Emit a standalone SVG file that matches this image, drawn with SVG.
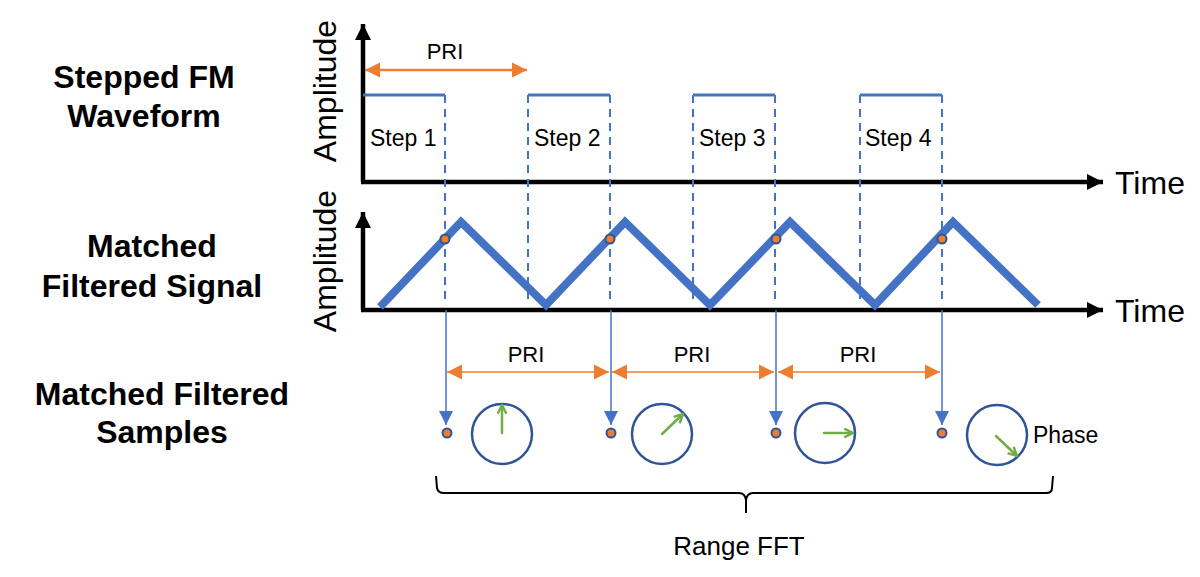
<svg xmlns="http://www.w3.org/2000/svg" width="1200" height="577" viewBox="0 0 1200 577">
<defs>
<style>
.lbl{font-family:"Liberation Sans",Arial,sans-serif;font-weight:bold;font-size:32px;fill:#000;text-anchor:middle}
.t{font-family:"Liberation Sans",Arial,sans-serif;fill:#000}
.ax{stroke:#000;stroke-width:4.5;fill:none}
.pulse{stroke:#4472C4;stroke-width:3;fill:none}
.dash{stroke:#4472C4;stroke-width:2;stroke-dasharray:8,6;fill:none}
.samp{stroke:#4472C4;stroke-width:1.5;fill:none}
.pri{stroke:#ED7D31;fill:none}
.dot{fill:#ED7D31;stroke:#2F5597;stroke-width:2}
.circ{fill:none;stroke:#2F5597;stroke-width:2.5}
.ph{stroke:#70AD47;stroke-width:2.5;fill:none;stroke-linecap:round;stroke-linejoin:round}
</style>
<marker id="ob" viewBox="0 0 10 10" refX="10" refY="5" markerWidth="15" markerHeight="16" markerUnits="userSpaceOnUse" orient="auto-start-reverse"><path d="M0,0 L10,5 L0,10 z" fill="#ED7D31"/></marker>
<marker id="bb" viewBox="0 0 10 10" refX="10" refY="5" markerWidth="14" markerHeight="15" markerUnits="userSpaceOnUse" orient="auto"><path d="M0,0 L10,5 L0,10 z" fill="#4472C4"/></marker>
<marker id="kb" viewBox="0 0 10 10" refX="10" refY="5" markerWidth="16" markerHeight="17" markerUnits="userSpaceOnUse" orient="auto"><path d="M0,0 L10,5 L0,10 z" fill="#000"/></marker>
<marker id="gb" viewBox="0 0 10 10" refX="9" refY="5" markerWidth="11" markerHeight="11" markerUnits="userSpaceOnUse" orient="auto"><path d="M1,1 L9,5 L1,9" fill="none" stroke="#70AD47" stroke-width="2.2"/></marker>
</defs>
<rect width="1200" height="577" fill="#fff"/>

<g id="labels">
<text class="lbl" x="144" y="88">Stepped FM</text>
<text class="lbl" x="144" y="127">Waveform</text>
<text class="lbl" x="152" y="257">Matched</text>
<text class="lbl" x="152" y="297">Filtered Signal</text>
<text class="lbl" x="162" y="405">Matched Filtered</text>
<text class="lbl" x="162" y="443">Samples</text>
</g>

<g id="axes-top">
<line class="ax" x1="363" y1="182" x2="363" y2="24" marker-end="url(#kb)"/>
<line class="ax" x1="361" y1="182" x2="1103" y2="182" marker-end="url(#kb)"/>
<text class="t" font-size="32" transform="translate(336,91) rotate(-90)" text-anchor="middle">Amplitude</text>
<text class="t" font-size="32" x="1115" y="194">Time</text>
</g>

<g id="axes-bottom">
<line class="ax" x1="363" y1="310" x2="363" y2="212" marker-end="url(#kb)"/>
<line class="ax" x1="361" y1="310" x2="1103" y2="310" marker-end="url(#kb)"/>
<text class="t" font-size="32" transform="translate(336,261) rotate(-90)" text-anchor="middle">Amplitude</text>
<text class="t" font-size="32" x="1115" y="322">Time</text>
</g>

<g id="stepped-waveform">
<polyline class="pulse" points="363,95 445,95"/>
<polyline class="pulse" points="528,95 610,95"/>
<polyline class="pulse" points="693,95 775,95"/>
<polyline class="pulse" points="860,95 942,95"/>
<text class="t" font-size="23" x="370" y="146">Step 1</text>
<text class="t" font-size="23" x="534" y="146">Step 2</text>
<text class="t" font-size="23" x="699" y="146">Step 3</text>
<text class="t" font-size="23" x="865" y="146">Step 4</text>
</g>

<g id="pri-top">
<line class="pri" stroke-width="2.5" x1="365" y1="70" x2="527" y2="70" marker-start="url(#ob)" marker-end="url(#ob)"/>
<text class="t" font-size="22" x="445" y="59" text-anchor="middle">PRI</text>
</g>

<g id="connectors">
<line class="dash" x1="445" y1="95" x2="445" y2="304"/>
<line class="dash" x1="528" y1="95" x2="528" y2="304"/>
<line class="dash" x1="610" y1="95" x2="610" y2="304"/>
<line class="dash" x1="693" y1="95" x2="693" y2="304"/>
<line class="dash" x1="775" y1="95" x2="775" y2="304"/>
<line class="dash" x1="860" y1="95" x2="860" y2="304"/>
<line class="dash" x1="942" y1="95" x2="942" y2="304"/>
<line class="samp" x1="446" y1="310" x2="446" y2="425" marker-end="url(#bb)"/>
<line class="samp" x1="611" y1="310" x2="611" y2="425" marker-end="url(#bb)"/>
<line class="samp" x1="776" y1="310" x2="776" y2="425" marker-end="url(#bb)"/>
<line class="samp" x1="942" y1="310" x2="942" y2="425" marker-end="url(#bb)"/>
</g>

<g id="matched-signal">
<polyline points="380,307 461,222 546,305 625,222 710,305 790,222 875,305 953,222 1038,305" fill="none" stroke="#4472C4" stroke-width="8" stroke-linejoin="miter"/>
<circle class="dot" cx="445" cy="239" r="4.5"/>
<circle class="dot" cx="610" cy="239" r="4.5"/>
<circle class="dot" cx="776" cy="239" r="4.5"/>
<circle class="dot" cx="942" cy="239" r="4.5"/>
</g>

<g id="pri-bottom">
<line class="pri" stroke-width="1.5" x1="447" y1="372" x2="609" y2="372" marker-start="url(#ob)" marker-end="url(#ob)"/>
<line class="pri" stroke-width="1.5" x1="612" y1="372" x2="774" y2="372" marker-start="url(#ob)" marker-end="url(#ob)"/>
<line class="pri" stroke-width="1.5" x1="778" y1="372" x2="940" y2="372" marker-start="url(#ob)" marker-end="url(#ob)"/>
<text class="t" font-size="22" x="526" y="362" text-anchor="middle">PRI</text>
<text class="t" font-size="22" x="692" y="362" text-anchor="middle">PRI</text>
<text class="t" font-size="22" x="858" y="362" text-anchor="middle">PRI</text>
</g>

<g id="samples">
<circle class="dot" cx="447" cy="433" r="4.5"/>
<circle class="dot" cx="611" cy="433" r="4.5"/>
<circle class="dot" cx="776" cy="433" r="4.5"/>
<circle class="dot" cx="942" cy="433" r="4.5"/>
<circle class="circ" cx="502" cy="434" r="30"/>
<circle class="circ" cx="662" cy="434" r="30"/>
<circle class="circ" cx="825" cy="433" r="30"/>
<circle class="circ" cx="997" cy="435" r="30"/>
<line class="ph" x1="502" y1="433" x2="502" y2="405" marker-end="url(#gb)"/>
<line class="ph" x1="662" y1="434" x2="683" y2="414" marker-end="url(#gb)"/>
<line class="ph" x1="824" y1="433" x2="853" y2="433" marker-end="url(#gb)"/>
<line class="ph" x1="996" y1="436" x2="1017" y2="456" marker-end="url(#gb)"/>
<text class="t" font-size="23" x="1033" y="443">Phase</text>
</g>

<g id="range-fft">
<path d="M436,476 L437,488 Q438,493 444,493 L739,493 Q745,493 746,500 L746,513 M746,500 Q747,493 753,493 L1046,493 Q1052,493 1052,488 L1053,476" fill="none" stroke="#000" stroke-width="2"/>
<text class="t" font-size="26" x="739" y="555" text-anchor="middle">Range FFT</text>
</g>
</svg>
